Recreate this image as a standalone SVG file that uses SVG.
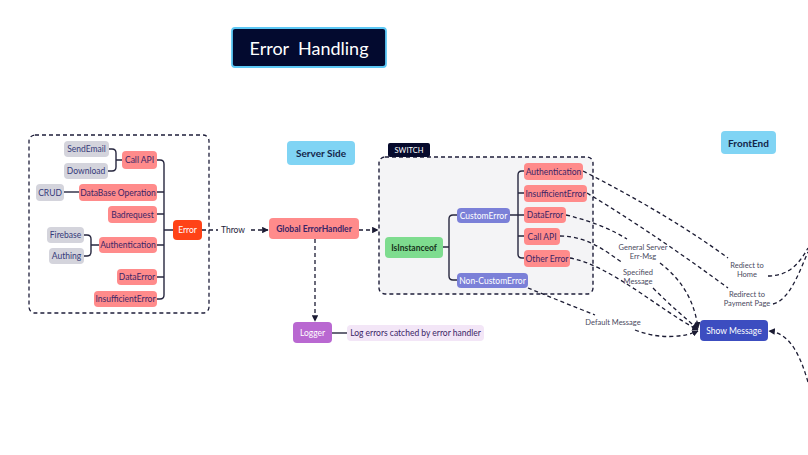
<svg xmlns="http://www.w3.org/2000/svg" width="808" height="455" viewBox="0 0 808 455">
<defs>
<marker id="ah" viewBox="0 0 10 10" refX="9" refY="5" markerWidth="5" markerHeight="5" orient="auto"><path d="M0,0 L10,5 L0,10 z" fill="#1b1b33"/></marker>
<style>
text{font-family:Lato,"Noto Sans","Liberation Sans",sans-serif;font-size:8.5px;text-anchor:middle;dominant-baseline:central}
.pink rect{fill:#ff8b8b}.pink text{fill:#3a2566}
.gray rect{fill:#d4d4dc}.gray text{fill:#353a7a}
.hdr rect{fill:#80d4f4}.hdr text{fill:#14264a;font-weight:bold;font-size:10px}
.tree{fill:none;stroke:#27273f;stroke-width:1.4}
.dash{fill:none;stroke:#1b1b33;stroke-width:1.3;stroke-dasharray:4 3}
.lbl{fill:#4a4a5e;font-size:7.5px}
.wt{fill:#fff}
</style>
</defs>
<rect width="808" height="455" fill="#fff"/>

<g id="title"><rect x="232" y="28" width="154" height="39" rx="3" fill="#030a2f" stroke="#5cc8f5" stroke-width="1.8"/><text x="309" y="48" class="wt" style="font-size:18px" xml:space="preserve">Error  Handling</text></g>

<g id="client-box"><rect x="29" y="135" width="180" height="178" rx="6" fill="none" stroke="#1e1e3a" stroke-width="1.3" stroke-dasharray="4 3"/></g>
<g id="switch-box"><rect x="379" y="157" width="214" height="137" rx="6" fill="#f4f4f6" stroke="#1e1e3a" stroke-width="1.4" stroke-dasharray="4 3"/>
<rect x="388" y="143" width="42" height="14" rx="2" fill="#060a2c"/><text x="409" y="150" class="wt" style="font-size:7.5px">SWITCH</text></g>

<g id="connectors">
<path class="tree" d="M109,149 H112 Q116,149 116,153 V167 Q116,171 112,171 H108 M116,160 H122"/>
<path class="tree" d="M64,192 H79"/>
<path class="tree" d="M84,235 H87 Q91,235 91,239 V252 Q91,256 87,256 H84 M91,245 H99"/>
<path class="tree" d="M157,160 H160 Q164,160 164,164 V295 Q164,299 160,299 H157 M157,192 H164 M157,214 H164 M157,245 H164 M157,277 H164 M164,230 H173"/>
<path class="tree" d="M443,247 H449 M457,215 H453 Q449,215 449,219 V276 Q449,280 453,280 H457"/>
<path class="tree" d="M510,215 H524 M524,171 H522 Q518,171 518,175 V254 Q518,258 522,258 H524 M518,193 H524 M518,236 H524"/>
<path class="tree" d="M332,333 H347"/>
<path class="dash" d="M202,230 H268" marker-end="url(#ah)"/>
<path class="dash" d="M359,230 H378" marker-end="url(#ah)"/>
<path class="dash" d="M315,239 V321" marker-end="url(#ah)"/>
<path class="dash" d="M583,171 C640,200 690,230 728,258"/>
<path class="dash" d="M587,193 C640,225 690,260 728,288"/>
<path class="dash" d="M768,276 C790,276 800,262 808,248"/>
<path class="dash" d="M773,304 C790,300 800,270 808,252"/>
<path class="dash" d="M566,215 C595,222 612,230 627,239"/>
<path class="dash" d="M660,263 C685,282 695,305 698,328" marker-end="url(#ah)"/>
<path class="dash" d="M560,236 C590,236 610,255 623,263"/>
<path class="dash" d="M653,288 C670,305 685,318 698,329" marker-end="url(#ah)"/>
<path class="dash" d="M570,258 C610,265 660,310 698,330" marker-end="url(#ah)"/>
<path class="dash" d="M528,288 C550,297 575,307 595,315"/>
<path class="dash" d="M635,330 C660,340 685,337 698,331" marker-end="url(#ah)"/>
<path class="dash" d="M808,382 C800,355 790,333 769,331" marker-end="url(#ah)"/>
<rect x="218" y="224" width="30" height="12" fill="#fff"/><text x="233" y="230" fill="#1e1e3a">Throw</text>
<text x="643" y="247" class="lbl">General Server</text><text x="643" y="256" class="lbl">Err-Msg</text>
<text x="638" y="272" class="lbl">Specified</text><text x="638" y="281" class="lbl">Message</text>
<text x="613" y="322" class="lbl">Default Message</text>
<text x="747" y="265" class="lbl">Rediect to</text><text x="747" y="274" class="lbl">Home</text>
<text x="747" y="294" class="lbl">Redirect to</text><text x="747" y="303" class="lbl">Payment Page</text>
</g>

<g id="n-sendemail" class="gray"><rect x="64" y="141" width="45" height="16" rx="4"/><text x="86.5" y="149">SendEmail</text></g>
<g id="n-download" class="gray"><rect x="64" y="163" width="44" height="16" rx="4"/><text x="86" y="171">Download</text></g>
<g id="n-callapi" class="pink"><rect x="122" y="151" width="35" height="18" rx="4"/><text x="139.5" y="160">Call API</text></g>
<g id="n-crud" class="gray"><rect x="36" y="184" width="28" height="17" rx="4"/><text x="50" y="192.5">CRUD</text></g>
<g id="n-dbop" class="pink"><rect x="79" y="184" width="78" height="17" rx="4"/><text x="118" y="192.5">DataBase Operation</text></g>
<g id="n-badreq" class="pink"><rect x="108" y="206" width="49" height="17" rx="4"/><text x="132.5" y="214.5">Badrequest</text></g>
<g id="n-firebase" class="gray"><rect x="47" y="227" width="37" height="16" rx="4"/><text x="65.5" y="235">Firebase</text></g>
<g id="n-authing" class="gray"><rect x="49" y="248" width="35" height="16" rx="4"/><text x="66.5" y="256">Authing</text></g>
<g id="n-auth1" class="pink"><rect x="99" y="237" width="58" height="16" rx="4"/><text x="128" y="245">Authentication</text></g>
<g id="n-dataerr1" class="pink"><rect x="117" y="269" width="40" height="16" rx="4"/><text x="137" y="277">DataError</text></g>
<g id="n-insuf1" class="pink"><rect x="94" y="291" width="63" height="16" rx="4"/><text x="125.5" y="299">InsufficientError</text></g>
<g id="n-error"><rect x="173" y="220" width="29" height="20" rx="4" fill="#ff4317"/><text x="187.5" y="230" class="wt">Error</text></g>

<g id="n-serverside" class="hdr"><rect x="287" y="141" width="68" height="24" rx="4"/><text x="321" y="153">Server Side</text></g>
<g id="n-frontend" class="hdr"><rect x="721" y="131" width="55" height="23" rx="4"/><text x="748.5" y="142.5">FrontEnd</text></g>
<g id="n-global" class="pink"><rect x="269" y="218" width="90" height="21" rx="4"/><text x="314" y="228.5" style="font-weight:bold">Global ErrorHandler</text></g>
<g id="n-logger"><rect x="293" y="322" width="39" height="21" rx="4" fill="#b968d1"/><text x="312.5" y="332.5" class="wt">Logger</text></g>
<g id="n-lognote"><rect x="347" y="325" width="137" height="16" rx="4" fill="#f3e6f7"/><text x="415.5" y="333" fill="#3a2566">Log errors catched by error handler</text></g>

<g id="n-isinstance"><rect x="385" y="237" width="58" height="21" rx="4" fill="#7edc8f"/><text x="414" y="247.5" fill="#17341c" style="font-weight:bold">IsInstanceof</text></g>
<g id="n-custom"><rect x="457" y="208" width="53" height="15" rx="4" fill="#7b80d8"/><text x="483.5" y="215.5" class="wt">CustomError</text></g>
<g id="n-noncustom"><rect x="457" y="273" width="71" height="15" rx="4" fill="#7b80d8"/><text x="492.5" y="280.5" class="wt">Non-CustomError</text></g>
<g id="n-auth2" class="pink"><rect x="524" y="163" width="59" height="17" rx="4"/><text x="553.5" y="171.5">Authentication</text></g>
<g id="n-insuf2" class="pink"><rect x="524" y="185" width="63" height="17" rx="4"/><text x="555.5" y="193.5">InsufficientError</text></g>
<g id="n-dataerr2" class="pink"><rect x="524" y="207" width="42" height="16" rx="4"/><text x="545" y="215">DataError</text></g>
<g id="n-callapi2" class="pink"><rect x="524" y="228" width="36" height="17" rx="4"/><text x="542" y="236.5">Call API</text></g>
<g id="n-other" class="pink"><rect x="524" y="250" width="46" height="17" rx="4"/><text x="547" y="258.5">Other Error</text></g>
<g id="n-show"><rect x="700" y="320" width="68" height="21" rx="4" fill="#3c4dc0"/><text x="734" y="330.5" class="wt">Show Message</text></g>
</svg>
